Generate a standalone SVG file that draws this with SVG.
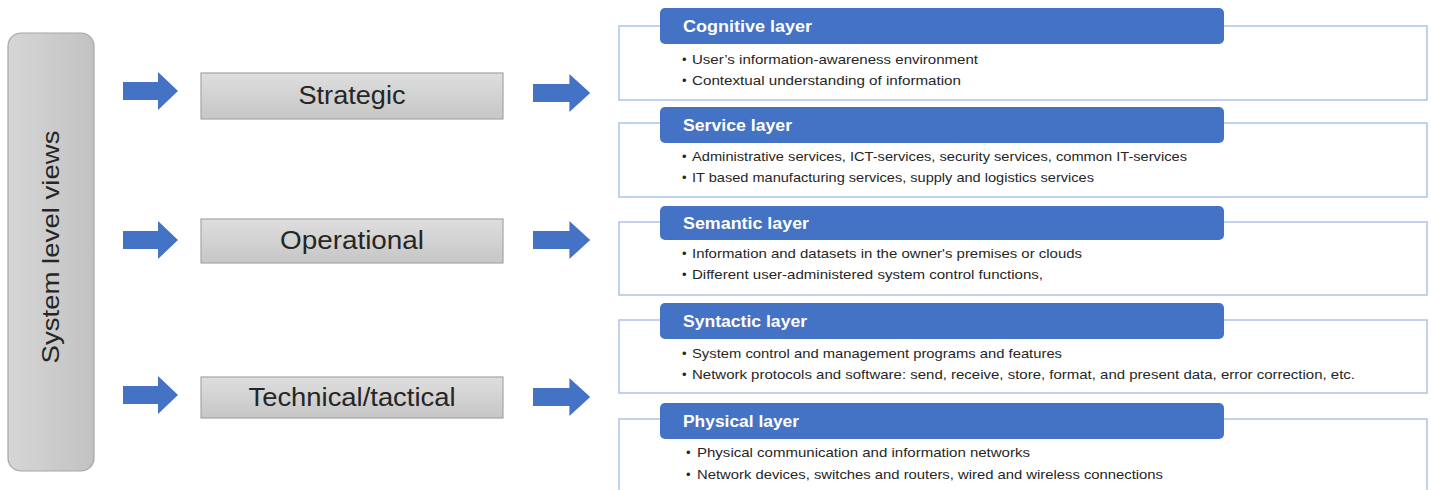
<svg xmlns="http://www.w3.org/2000/svg" width="1431" height="490" viewBox="0 0 1431 490">
<defs>
<linearGradient id="gv" x1="0" y1="0" x2="0" y2="1"><stop offset="0" stop-color="#DEDEDE"/><stop offset="1" stop-color="#C6C6C6"/></linearGradient>
<linearGradient id="gh" x1="0" y1="0" x2="1" y2="0"><stop offset="0" stop-color="#D6D6D6"/><stop offset="1" stop-color="#C2C2C2"/></linearGradient>
<path id="arr" d="M0,-9 H35 V-19 L55,0 L35,19 V9 H0 Z"/>
</defs>
<style>
.gbox{fill:url(#gv);stroke:#A6A6A6;stroke-width:1.2}
.mid{font-family:"Liberation Sans",Arial,sans-serif;font-size:25px;fill:#262626;text-anchor:middle}
.arrow{fill:#4472C4}
.outline{fill:#fff;stroke:#B4C7E7;stroke-width:1.6}
.hdr{fill:#4472C4}
.ht{font-family:"Liberation Sans",Arial,sans-serif;font-weight:bold;font-size:16px;fill:#fff}
.bt{font-family:"Liberation Sans",Arial,sans-serif;font-size:13px;fill:#262626}
</style>
<rect width="1431" height="490" fill="#fff"/>

<g id="system-level-views">
<rect x="8" y="33" width="86" height="438" rx="13" fill="url(#gh)" stroke="#A6A6A6" stroke-width="1.2"/>
<text transform="translate(59,247) rotate(-90)" font-family="'Liberation Sans',Arial,sans-serif" font-size="24" fill="#262626" text-anchor="middle" textLength="233" lengthAdjust="spacingAndGlyphs">System level views</text>
</g>

<g id="connectors">
<use href="#arr" class="arrow" transform="translate(123,91)"/>
<use href="#arr" class="arrow" transform="translate(123,240)"/>
<use href="#arr" class="arrow" transform="translate(123,395)"/>
<use href="#arr" class="arrow" transform="translate(533,93) scale(1.04,1)"/>
<use href="#arr" class="arrow" transform="translate(533,240) scale(1.04,1)"/>
<use href="#arr" class="arrow" transform="translate(533,397) scale(1.04,1)"/>
</g>

<g id="strategic">
<rect class="gbox" x="201" y="73" width="302" height="46"/>
<text class="mid" x="352" y="104" textLength="107" lengthAdjust="spacingAndGlyphs">Strategic</text>
</g>
<g id="operational">
<rect class="gbox" x="201" y="219" width="302" height="44"/>
<text class="mid" x="352" y="249" textLength="144" lengthAdjust="spacingAndGlyphs">Operational</text>
</g>
<g id="technical">
<rect class="gbox" x="201" y="377" width="302" height="41"/>
<text class="mid" x="352" y="406" textLength="207" lengthAdjust="spacingAndGlyphs">Technical/tactical</text>
</g>

<g id="cognitive-layer">
<rect class="outline" x="619" y="26" width="808" height="74"/>
<rect class="hdr" x="660" y="8" width="564" height="36" rx="5"/>
<text class="ht" x="683" y="32" textLength="129" lengthAdjust="spacingAndGlyphs">Cognitive layer</text>
<text class="bt" x="682" y="64">•</text>
<text class="bt" x="692" y="64" textLength="286" lengthAdjust="spacingAndGlyphs">User’s information-awareness environment</text>
<text class="bt" x="682" y="85">•</text>
<text class="bt" x="692" y="85" textLength="269" lengthAdjust="spacingAndGlyphs">Contextual understanding of information</text>
</g>

<g id="service-layer">
<rect class="outline" x="619" y="123" width="808" height="74"/>
<rect class="hdr" x="660" y="107" width="564" height="36" rx="5"/>
<text class="ht" x="683" y="131" textLength="109" lengthAdjust="spacingAndGlyphs">Service layer</text>
<text class="bt" x="682" y="161">•</text>
<text class="bt" x="692" y="161" textLength="495" lengthAdjust="spacingAndGlyphs">Administrative services, ICT-services, security services, common IT-services</text>
<text class="bt" x="682" y="182">•</text>
<text class="bt" x="692" y="182" textLength="402" lengthAdjust="spacingAndGlyphs">IT based manufacturing services, supply and logistics services</text>
</g>

<g id="semantic-layer">
<rect class="outline" x="619" y="222" width="808" height="73"/>
<rect class="hdr" x="660" y="206" width="564" height="34" rx="5"/>
<text class="ht" x="683" y="229" textLength="126" lengthAdjust="spacingAndGlyphs">Semantic layer</text>
<text class="bt" x="682" y="258">•</text>
<text class="bt" x="692" y="258" textLength="390" lengthAdjust="spacingAndGlyphs">Information and datasets in the owner's premises or clouds</text>
<text class="bt" x="682" y="279">•</text>
<text class="bt" x="692" y="279" textLength="351" lengthAdjust="spacingAndGlyphs">Different user-administered system control functions,</text>
</g>

<g id="syntactic-layer">
<rect class="outline" x="619" y="320" width="808" height="73"/>
<rect class="hdr" x="660" y="303" width="564" height="36" rx="5"/>
<text class="ht" x="683" y="327" textLength="124" lengthAdjust="spacingAndGlyphs">Syntactic layer</text>
<text class="bt" x="682" y="358">•</text>
<text class="bt" x="692" y="358" textLength="370" lengthAdjust="spacingAndGlyphs">System control and management programs and features</text>
<text class="bt" x="682" y="379">•</text>
<text class="bt" x="692" y="379" textLength="663" lengthAdjust="spacingAndGlyphs">Network protocols and software: send, receive, store, format, and present data, error correction, etc.</text>
</g>

<g id="physical-layer">
<rect class="outline" x="619" y="419" width="808" height="90"/>
<rect class="hdr" x="660" y="403" width="564" height="36" rx="5"/>
<text class="ht" x="683" y="427" textLength="116" lengthAdjust="spacingAndGlyphs">Physical layer</text>
<text class="bt" x="686" y="457">•</text>
<text class="bt" x="697" y="457" textLength="333" lengthAdjust="spacingAndGlyphs">Physical communication and information networks</text>
<text class="bt" x="686" y="479">•</text>
<text class="bt" x="697" y="479" textLength="466" lengthAdjust="spacingAndGlyphs">Network devices, switches and routers, wired and wireless connections</text>
</g>
</svg>
